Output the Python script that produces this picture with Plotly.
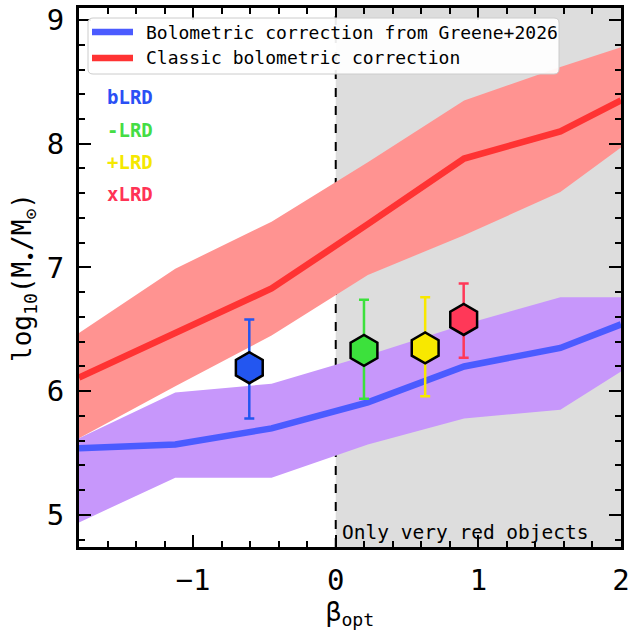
import plotly.graph_objects as go

# Binned beta_opt grid for the mass relations
beta_grid = [-1.8, -1.125, -0.45, 0.225, 0.9, 1.575, 2.0]

# Classic bolometric correction: median and 1-sigma envelope
classic_mid = [6.11, 6.47, 6.83, 7.35, 7.88, 8.10, 8.35]
classic_hi = [6.47, 6.99, 7.37, 7.85, 8.35, 8.62, 8.78]
classic_lo = [5.62, 6.04, 6.45, 6.94, 7.26, 7.61, 7.97]

# Bolometric correction from Greene+2026: median and 1-sigma envelope
greene_mid = [5.54, 5.57, 5.70, 5.91, 6.20, 6.35, 6.54]
greene_hi = [5.62, 5.99, 6.06, 6.29, 6.54, 6.76, 6.76]
greene_lo = [4.94, 5.30, 5.30, 5.57, 5.78, 5.85, 6.16]

# LRD classes
lrd_names = ["bLRD", "-LRD", "+LRD", "xLRD"]
lrd_beta = [-0.606, 0.198, 0.627, 0.897]
lrd_mass = [6.19, 6.33, 6.35, 6.58]
lrd_err_hi = [0.39, 0.41, 0.41, 0.29]
lrd_err_lo = [0.41, 0.39, 0.39, 0.31]
lrd_colors = ["#2356f0", "#3ce13c", "#f8e800", "#ff3858"]
lrd_text_colors = ["#2a4ff5", "#44dd44", "#f5e800", "#ff3355"]

legend_names = ["Bolometric correction from Greene+2026", "Classic bolometric correction"]
legend_colors = ["#4b5bff", "#ff3333"]

MONO = "DejaVu Sans Mono"
X_RANGE = [-1.8, 2.0]
Y_RANGE = [4.741, 9.097]

# plot-area pixel frame, used to place the hand-drawn legend
PX_L, PX_R, PX_T, PX_B = 79, 621, 8, 547


def paper_x(px):
    return (px - PX_L) / (PX_R - PX_L)


def paper_y(py):
    return (PX_B - py) / (PX_B - PX_T)


fig = go.Figure()

# purple envelope (Greene+2026)
fig.add_trace(go.Scatter(x=beta_grid, y=greene_lo, mode="lines", line=dict(width=0),
                         showlegend=False, hoverinfo="skip"))
fig.add_trace(go.Scatter(x=beta_grid, y=greene_hi, mode="lines", line=dict(width=0),
                         fill="tonexty", fillcolor="#c797fb", showlegend=False, hoverinfo="skip"))
# red envelope (classic)
fig.add_trace(go.Scatter(x=beta_grid, y=classic_lo, mode="lines", line=dict(width=0),
                         showlegend=False, hoverinfo="skip"))
fig.add_trace(go.Scatter(x=beta_grid, y=classic_hi, mode="lines", line=dict(width=0),
                         fill="tonexty", fillcolor="#ff9391", showlegend=False, hoverinfo="skip"))
# medians
fig.add_trace(go.Scatter(x=beta_grid, y=greene_mid, mode="lines", name=legend_names[0],
                         line=dict(color=legend_colors[0], width=6.5), showlegend=False))
fig.add_trace(go.Scatter(x=beta_grid, y=classic_mid, mode="lines", name=legend_names[1],
                         line=dict(color=legend_colors[1], width=6.5), showlegend=False))

# LRD class points with error bars
for i, name in enumerate(lrd_names):
    fig.add_trace(go.Scatter(
        x=[lrd_beta[i]], y=[lrd_mass[i]], mode="markers", name=name, showlegend=False,
        marker=dict(symbol="hexagon", size=31, color=lrd_colors[i],
                    line=dict(color="black", width=2.5)),
        error_y=dict(type="data", symmetric=False, array=[lrd_err_hi[i]],
                     arrayminus=[lrd_err_lo[i]], color=lrd_colors[i],
                     thickness=2.5, width=5),
    ))

shapes = [
    # red-object region
    dict(type="rect", xref="x", yref="paper", x0=0, x1=X_RANGE[1], y0=0, y1=1,
         fillcolor="#dddddd", line=dict(width=0), layer="below"),
    dict(type="line", xref="x", yref="paper", x0=0, x1=0, y0=0, y1=1,
         line=dict(color="black", width=2, dash="dash"), layer="below"),
]

# legend box with rounded corners
bx0, bx1, by0, by1 = paper_x(88), paper_x(559), paper_y(74), paper_y(18)
rx, ry = 5 / (PX_R - PX_L), 5 / (PX_B - PX_T)
box_path = (f"M {bx0 + rx},{by0} L {bx1 - rx},{by0} Q {bx1},{by0} {bx1},{by0 + ry} "
            f"L {bx1},{by1 - ry} Q {bx1},{by1} {bx1 - rx},{by1} "
            f"L {bx0 + rx},{by1} Q {bx0},{by1} {bx0},{by1 - ry} "
            f"L {bx0},{by0 + ry} Q {bx0},{by0} {bx0 + rx},{by0} Z")
shapes.append(dict(type="path", xref="paper", yref="paper", path=box_path,
                   fillcolor="rgba(255,255,255,0.92)", line=dict(color="#cccccc", width=1),
                   layer="above"))

annotations = []
legend_rows = [32, 58]
for name, color, row in zip(legend_names, legend_colors, legend_rows):
    shapes.append(dict(type="line", xref="paper", yref="paper",
                       x0=paper_x(92), x1=paper_x(133), y0=paper_y(row), y1=paper_y(row),
                       line=dict(color=color, width=6.5), layer="above"))
    annotations.append(dict(xref="paper", yref="paper", x=paper_x(144), y=paper_y(row),
                            xanchor="left", yanchor="middle", showarrow=False, text=name,
                            font=dict(family=MONO, size=18, color="black")))

# class labels
label_rows = [97, 130, 162, 194]
for name, color, row in zip(lrd_names, lrd_text_colors, label_rows):
    annotations.append(dict(xref="paper", yref="paper", x=paper_x(105), y=paper_y(row),
                            xanchor="left", yanchor="middle", showarrow=False,
                            text=f"<b>{name}</b>",
                            font=dict(family=MONO, size=19, color=color)))

annotations.append(dict(xref="x", yref="y", x=0.03, y=4.855, xanchor="left", yanchor="middle",
                        showarrow=False, text="Only very red objects",
                        font=dict(family=MONO, size=19.5, color="black")))

axis_common = dict(
    showline=True, linecolor="black", linewidth=3, mirror="ticks",
    ticks="inside", ticklen=12, tickwidth=2, tickcolor="black",
    showgrid=False, zeroline=False, automargin=False,
    tickfont=dict(family=MONO, size=29, color="black"),
    minor=dict(ticks="inside", ticklen=6, tickwidth=1.5, tickcolor="black", dtick=0.2),
)

fig.update_layout(
    width=631, height=633,
    margin=dict(l=PX_L, r=631 - PX_R, t=PX_T, b=633 - PX_B),
    paper_bgcolor="white", plot_bgcolor="white",
    showlegend=False,
    shapes=shapes, annotations=annotations,
    xaxis=dict(range=X_RANGE, tickvals=[-1, 0, 1, 2], ticklabelstandoff=5,
               title=dict(text="β<sub>opt</sub>", standoff=4,
                          font=dict(family=MONO, size=26, color="black")),
               **axis_common),
    yaxis=dict(range=Y_RANGE, tickvals=[5, 6, 7, 8, 9], ticklabelstandoff=6,
               title=dict(text="log<sub>10</sub>(M<sub>•</sub>/M<sub>⊙</sub>)", standoff=8,
                          font=dict(family=MONO, size=26, color="black")),
               **axis_common),
)

fig.write_html("out.html")
